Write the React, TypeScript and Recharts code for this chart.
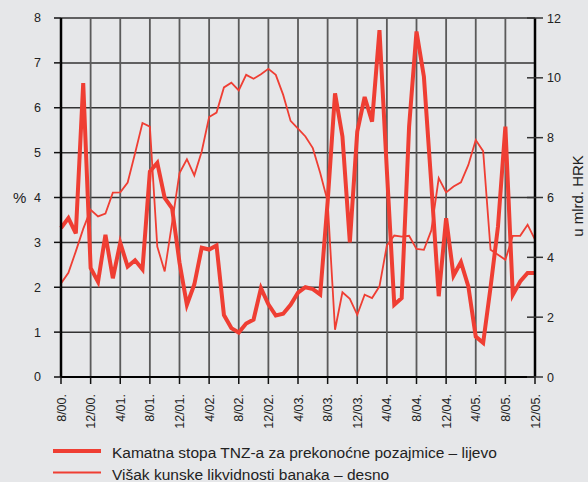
import { LineChart, Line, XAxis, YAxis, CartesianGrid } from 'recharts'

const MONTHS = [
  '8/00.', '9/00.', '10/00.', '11/00.', '12/00.',
  '1/01.', '2/01.', '3/01.', '4/01.', '5/01.', '6/01.', '7/01.', '8/01.', '9/01.', '10/01.', '11/01.', '12/01.',
  '1/02.', '2/02.', '3/02.', '4/02.', '5/02.', '6/02.', '7/02.', '8/02.', '9/02.', '10/02.', '11/02.', '12/02.',
  '1/03.', '2/03.', '3/03.', '4/03.', '5/03.', '6/03.', '7/03.', '8/03.', '9/03.', '10/03.', '11/03.', '12/03.',
  '1/04.', '2/04.', '3/04.', '4/04.', '5/04.', '6/04.', '7/04.', '8/04.', '9/04.', '10/04.', '11/04.', '12/04.',
  '1/05.', '2/05.', '3/05.', '4/05.', '5/05.', '6/05.', '7/05.', '8/05.', '9/05.', '10/05.', '11/05.', '12/05.',
]

// overnight rate, % (left axis)
const RATE = [
  3.32, 3.54, 3.2, 6.55, 2.43,
  2.12, 3.17, 2.2, 2.99, 2.46, 2.6, 2.4, 4.58, 4.77, 3.99, 3.76, 2.55,
  1.61, 2.06, 2.88, 2.84, 2.93, 1.38, 1.09, 0.99, 1.19, 1.28, 1.98, 1.62,
  1.37, 1.41, 1.61, 1.88, 2.0, 1.96, 1.84, 3.9, 6.32, 5.36, 3.0, 5.47,
  6.24, 5.69, 7.73, 4.6, 1.61, 1.76, 5.58, 7.7, 6.69, 4.3, 1.8, 3.54,
  2.26, 2.56, 2.02, 0.9, 0.76, 2.0, 3.35, 5.58, 1.83, 2.13, 2.32, 2.32,
]

// excess kuna liquidity, bn HRK (right axis)
const LIQUIDITY = [
  3.13, 3.48, 4.2, 4.95, 5.59,
  5.37, 5.46, 6.16, 6.17, 6.5, 7.48, 8.49, 8.37, 4.36, 3.53, 5.15, 6.82,
  7.28, 6.74, 7.54, 8.69, 8.84, 9.68, 9.84, 9.58, 10.1, 9.97, 10.12, 10.3,
  10.1, 9.43, 8.56, 8.3, 8.04, 7.65, 6.82, 5.87, 1.58, 2.83, 2.61, 2.08,
  2.75, 2.64, 3.03, 4.4, 4.73, 4.69, 4.72, 4.28, 4.25, 4.9, 6.65, 6.17,
  6.37, 6.51, 7.09, 7.92, 7.55, 4.25, 4.09, 3.92, 4.72, 4.72, 5.09, 4.59,
]

const LEFT_TICKS = [0, 1, 2, 3, 4, 5, 6, 7, 8]
const RIGHT_TICKS = [0, 2, 4, 6, 8, 10, 12]
const LEGEND = [
  'Kamatna stopa TNZ-a za prekonoćne pozajmice – lijevo',
  'Višak kunske likvidnosti banaka – desno',
]

const RED = '#ef3e33'
const INK = '#222'
const FONT = '"Liberation Sans", Arial, sans-serif'

const data = MONTHS.map((month, i) => ({ month, rate: RATE[i], liquidity: LIQUIDITY[i] }))

const MonthTick = ({ x, y, payload }: any) => (
  <text
    x={x}
    y={y}
    transform={`rotate(-90 ${x} ${y})`}
    textAnchor="end"
    dy="0.36em"
    fontSize={12.5}
    fill={INK}
  >
    {payload.value}
  </text>
)

// right ticks cross the axis line, so draw them here instead of via tickLine
const RightTick = ({ x, y, payload }: any) => (
  <g>
    <line x1={x - 20} x2={x - 4} y1={y} y2={y} stroke="#333" strokeWidth={1.5} />
    <text x={x} y={y} dy="0.36em" fontSize={12.5} fill={INK}>
      {payload.value}
    </text>
  </g>
)

export default function App() {
  return (
    <div
      style={{
        position: 'absolute',
        left: 0,
        top: 0,
        width: 588,
        height: 482,
        background: '#e6e7e9',
        fontFamily: FONT,
      }}
    >
      <LineChart width={588} height={482} data={data} margin={{ top: 18, right: 0, left: 0, bottom: 0 }}>
        <CartesianGrid yAxisId="l" vertical={false} stroke="#333" strokeWidth={1.5} />
        <CartesianGrid yAxisId="l" horizontal={false} stroke="#5a5a5a" strokeWidth={1.8} />
        <XAxis
          dataKey="month"
          interval={3}
          height={105}
          tickSize={7}
          tickMargin={10}
          tick={<MonthTick />}
          axisLine={{ stroke: '#000', strokeWidth: 2 }}
          tickLine={{ stroke: '#111', strokeWidth: 1.5 }}
        />
        <YAxis
          yAxisId="l"
          width={61}
          domain={[0, 8]}
          ticks={LEFT_TICKS}
          tickSize={7}
          tickMargin={13}
          tick={{ fontSize: 12.5, fill: INK }}
          axisLine={{ stroke: '#000', strokeWidth: 2.5 }}
          tickLine={{ stroke: '#111', strokeWidth: 1.5 }}
          label={{ value: '%', position: 'insideLeft', offset: 13, fontSize: 15, fill: INK }}
        />
        <YAxis
          yAxisId="r"
          orientation="right"
          width={53}
          domain={[0, 12]}
          ticks={RIGHT_TICKS}
          tickSize={8}
          tickMargin={4}
          tick={<RightTick />}
          tickLine={false}
          axisLine={{ stroke: '#000', strokeWidth: 2.5 }}
          label={{
            content: () => (
              <text x={583} y={196} transform="rotate(-90 583 196)" textAnchor="middle" fontSize={15} fill={INK}>
                u mlrd. HRK
              </text>
            ),
          }}
        />
        <Line
          yAxisId="r"
          type="linear"
          dataKey="liquidity"
          stroke={RED}
          strokeWidth={1.8}
          dot={false}
          isAnimationActive={false}
        />
        <Line
          yAxisId="l"
          type="linear"
          dataKey="rate"
          stroke={RED}
          strokeWidth={4}
          dot={false}
          isAnimationActive={false}
        />
      </LineChart>

      <svg width={588} height={482} style={{ position: 'absolute', left: 0, top: 0, pointerEvents: 'none' }}>
        <line x1={53} x2={101} y1={451} y2={451} stroke={RED} strokeWidth={4} />
        <text x={112} y={458} fontSize={15.5} fill={INK}>{LEGEND[0]}</text>
        <line x1={53} x2={101} y1={472.5} y2={472.5} stroke={RED} strokeWidth={2} />
        <text x={112} y={479.5} fontSize={15.5} fill={INK}>{LEGEND[1]}</text>
      </svg>
    </div>
  )
}
